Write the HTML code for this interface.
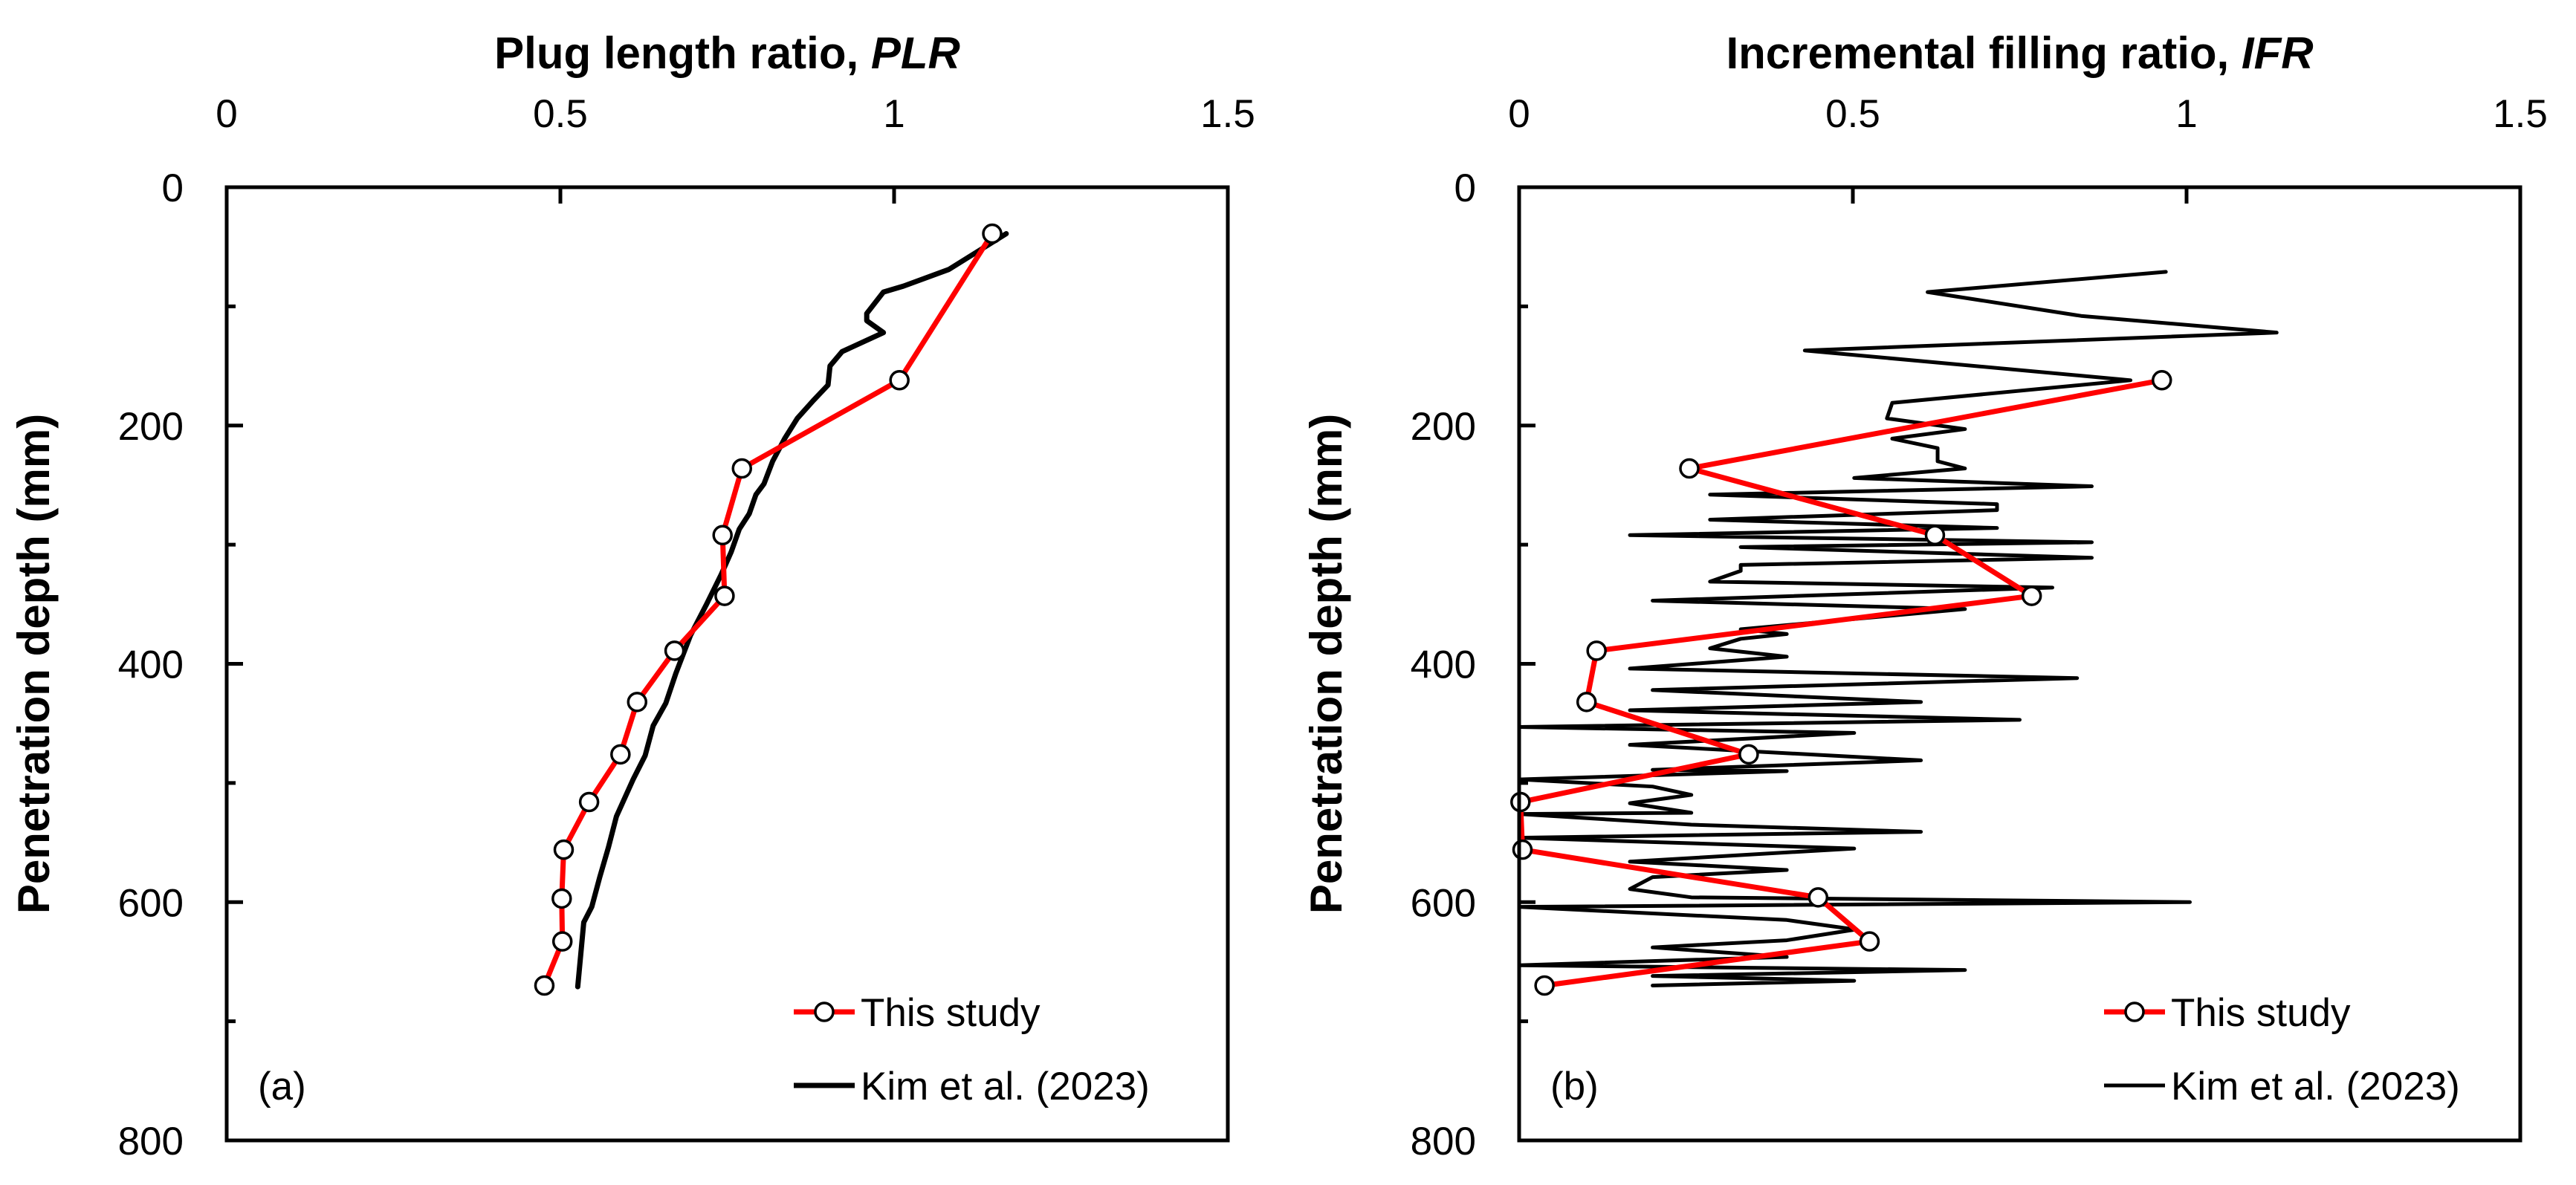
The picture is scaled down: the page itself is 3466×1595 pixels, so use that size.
<!DOCTYPE html>
<html><head><meta charset="utf-8"><style>
html,body{margin:0;padding:0;background:#fff;}
svg{display:block;font-family:"Liberation Sans",Arial,sans-serif;}
</style></head><body>
<svg id="fig" width="3466" height="1595" viewBox="0 0 3466 1595" xmlns="http://www.w3.org/2000/svg"></svg>
<script>
const xTicks=[0,0.5,1,1.5];
const xTickLabels=["0","0.5","1","1.5"];
const yTicks=[0,200,400,600,800];
const yMinor=[100,300,500,700];
const plrStudyX=[1.147,1.008,0.772,0.743,0.746,0.671,0.615,0.590,0.543,0.505,0.502,0.503,0.476];
const plrStudyY=[39,162,236,292,343,389,432,476,516,556,597,633,670];
const plrKimX=[1.168,1.082,1.014,0.984,0.959,0.959,0.984,0.922,0.904,0.901,0.879,0.855,0.836,0.818,0.805,0.793,0.783,0.768,0.756,0.741,0.719,0.695,0.673,0.658,0.639,0.627,0.609,0.584,0.572,0.559,0.547,0.535,0.526];
const plrKimY=[39,69,83,88,106,112,122,138,150,166,179,194,211,230,249,258,274,287,306,325,350,376,408,433,452,477,497,528,554,579,604,617,671];
const ifrStudyX=[0.963,0.255,0.623,0.768,0.116,0.101,0.344,0.002,0.005,0.448,0.525,0.038];
const ifrStudyY=[162,236,292,343,389,432,476,516,556,596,633,670];
const ifrKimX=[0.969,0.612,0.842,1.135,0.428,0.916,0.559,0.551,0.668,0.559,0.627,0.627,0.668,0.502,0.858,0.286,0.716,0.716,0.286,0.716,0.166,0.858,0.332,0.858,0.332,0.332,0.286,0.799,0.200,0.668,0.332,0.401,0.332,0.286,0.401,0.166,0.836,0.200,0.602,0.166,0.750,0.000,0.502,0.166,0.602,0.200,0.401,0,0.200,0.258,0.166,0.258,0,0.258,0.602,0,0.502,0.166,0.401,0.200,0.166,0.258,1.005,0,0.401,0.504,0.401,0.200,0.401,0,0.668,0.200,0.502,0.200];
const ifrKimY=[71,88,108,122,137,162,181,194,203,211,219,230,236,244,251,258,266,271,279,286,292,298,302,311,317,322,331,336,347,354,371,375,379,387,394,404,412,422,432,439,447,453,458,468,481,489,490,497,503,510,517,525,526,535,541,546,555,566,573,579,589,596,600,604,615,623,632,638,646,653,657,662,666,670];

const NS="http://www.w3.org/2000/svg";
const svg=document.getElementById('fig');
function mk(tag,attrs,parent,text){const e=document.createElementNS(NS,tag);for(const k in attrs)e.setAttribute(k,attrs[k]);if(text!==undefined)e.textContent=text;(parent||svg).appendChild(e);return e;}

function panel(x0,title,italic,key,studyX,studyY,kimX,kimY,kimW,legX,tag){
  const x1=x0+1347,y0=252,y1=1535;
  const sx=v=>x0+v/1.5*(x1-x0), sy=v=>y0+v/800*(y1-y0);
  const g=mk('g',{});
  
  
  const t=mk('text',{x:(x0+x1)/2,y:92,'text-anchor':'middle','font-size':60,'font-weight':'bold'},g);
  
  
  t.appendChild(document.createTextNode(title));
  const it=mk('tspan',{'font-style':'italic'},t,italic);
  xTicks.forEach((v,i)=>{
    const l=mk('text',{x:sx(v),y:171,'text-anchor':'middle','font-size':53},g,xTickLabels[i]);
    
    
    if(v>0&&v<1.5){const tk=mk('line',{x1:sx(v),x2:sx(v),y1:y0,y2:y0+22,stroke:'#000','stroke-width':5},g);
      
      }
  });
  yTicks.forEach(v=>{
    const l=mk('text',{x:x0-58,y:sy(v)+19,'text-anchor':'end','font-size':53},g,String(v));
    
    
    if(v>0&&v<800){const tk=mk('line',{x1:x0,x2:x0+22,y1:sy(v),y2:sy(v),stroke:'#000','stroke-width':5},g);
      
      }
  });
  yMinor.forEach(v=>{const tk=mk('line',{x1:x0,x2:x0+12,y1:sy(v),y2:sy(v),stroke:'#000','stroke-width':5},g);
    
    });
  const yt=mk('text',{x:0,y:0,'text-anchor':'middle','font-size':60,'font-weight':'bold',transform:`translate(${x0-239},${(y0+y1)/2}) rotate(-90)`},g,'Penetration depth (mm)');
  
  
  const kim=mk('polyline',{points:kimX.map((v,i)=>sx(v)+','+sy(kimY[i])).join(' '),fill:'none',stroke:'#000','stroke-width':kimW,'stroke-linejoin':'round','stroke-linecap':'round'},g);
  
  
  const st=mk('polyline',{points:studyX.map((v,i)=>sx(v)+','+sy(studyY[i])).join(' '),fill:'none',stroke:'#ff0000','stroke-width':7,'stroke-linejoin':'round'},g);
  
  
  studyX.forEach((v,i)=>{const c=mk('circle',{cx:sx(v),cy:sy(studyY[i]),r:12,fill:'#fff',stroke:'#000','stroke-width':3.5},g);
    
    });
  const box=mk('rect',{x:x0,y:y0,width:x1-x0,height:y1-y0,fill:'none',stroke:'#000','stroke-width':5},g);
  
  
  // legend
  const lg=mk('g',{},g);
  
  
  mk('line',{x1:legX,x2:legX+82,y1:1362,y2:1362,stroke:'#ff0000','stroke-width':7},lg);
  mk('circle',{cx:legX+41,cy:1362,r:12,fill:'#fff',stroke:'#000','stroke-width':3.5},lg);
  const e1=mk('text',{x:legX+90,y:1381,'font-size':53},lg,'This study');
  
  
  mk('line',{x1:legX,x2:legX+82,y1:1461,y2:1461,stroke:'#000','stroke-width':kimW},lg);
  const e2=mk('text',{x:legX+90,y:1480,'font-size':53},lg,'Kim et al. (2023)');
  
  
  const pl=mk('text',{x:x0+42,y:1480,'font-size':53},g,tag);
  
  
}
panel(305,'Plug length ratio, ','PLR','plr',plrStudyX,plrStudyY,plrKimX,plrKimY,7,1068,'(a)');
panel(2044,'Incremental filling ratio, ','IFR','ifr',ifrStudyX,ifrStudyY,ifrKimX,ifrKimY,5,2831,'(b)');
</script>
</body></html>
